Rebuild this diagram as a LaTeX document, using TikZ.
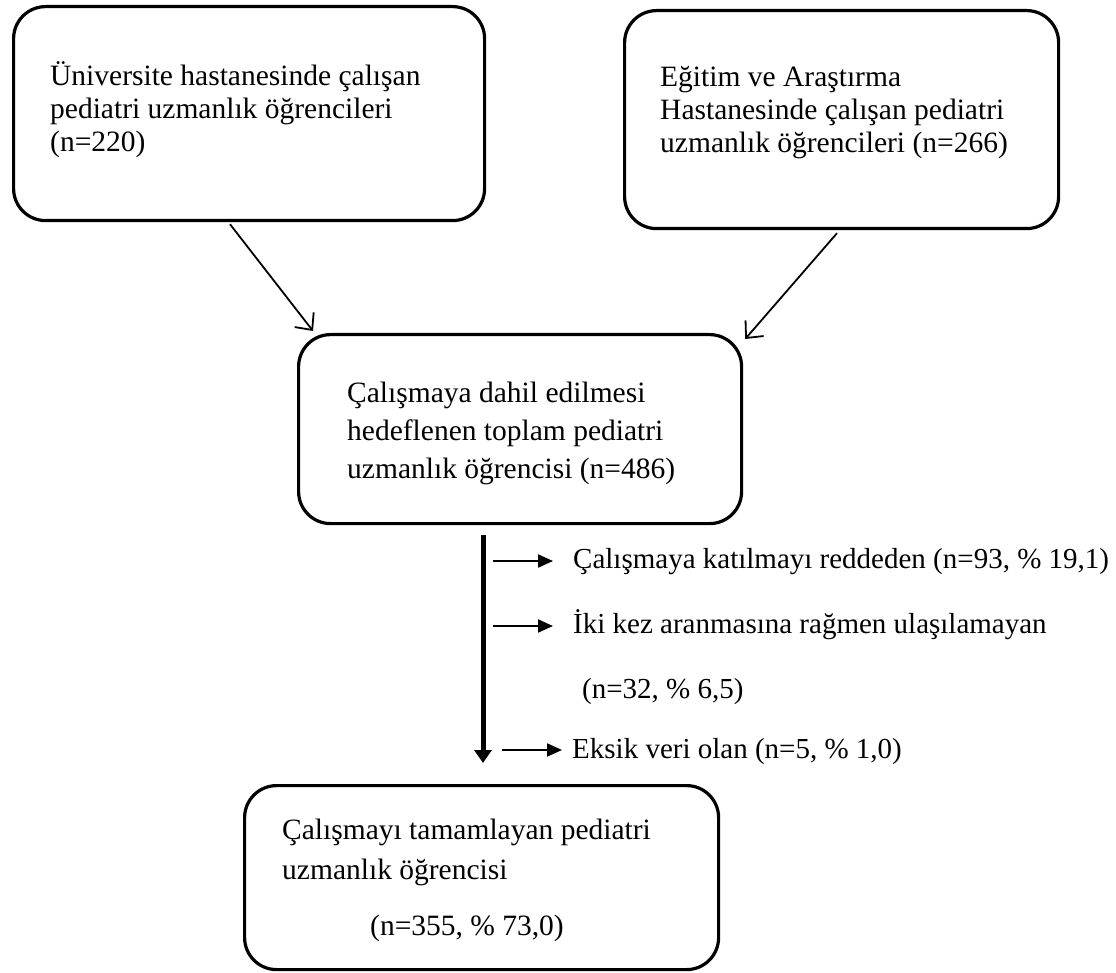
\documentclass[tikz,border=0pt]{standalone}
\usepackage{fontspec}
\setmainfont{Liberation Serif}
\usetikzlibrary{arrows.meta,calc}
\tikzset{
  box/.style={draw, line width=3.2pt, rounded corners=32pt, inner sep=0pt, anchor=north west},
  txt/.style={inner sep=0pt, anchor=north west, align=left, font=\fontsize{29.5pt}{33pt}\selectfont},
  oneline/.style={inner sep=0pt, anchor=base west, font=\fontsize{29pt}{34pt}\selectfont},
  feed/.style={line width=1.8pt, -{Straight Barb[length=13pt,width=24pt]}},
  exclude/.style={line width=2pt, -{Triangle[length=15pt,width=13pt]}},
  flow/.style={line width=5pt, -{Triangle[length=13pt,width=17pt]}},
}
\begin{document}
\begin{tikzpicture}[x=1pt,y=-1pt]
\useasboundingbox (0,0) rectangle (1116,973);
% boxes
\node[box, minimum width=471pt, minimum height=214pt] (A) at (12,5) {};
\node[box, minimum width=434pt, minimum height=218pt] (B) at (623,9) {};
\node[box, minimum width=443pt, minimum height=189pt] (C) at (297,333) {};
\node[box, minimum width=474pt, minimum height=184pt] (D) at (243,784) {};
% texts in boxes
\node[txt] (tA) at (50,57) {\rule{0pt}{28pt}Üniversite hastanesinde çalışan\\pediatri uzmanlık öğrencileri\\(n=220)};
\node[txt] (tB) at (660,58) {\rule{0pt}{28pt}Eğitim ve Araştırma\\Hastanesinde çalışan pediatri\\uzmanlık öğrencileri (n=266)};
\node[txt, font=\fontsize{29.5pt}{38pt}\selectfont] (tC) at (347,374) {\rule{0pt}{28pt}Çalışmaya dahil edilmesi\\hedeflenen toplam pediatri\\uzmanlık öğrencisi (n=486)};
\node[txt, font=\fontsize{29.5pt}{40pt}\selectfont] (tD) at (282,811) {\rule{0pt}{28pt}Çalışmayı tamamlayan pediatri\\uzmanlık öğrencisi};
\node[oneline, font=\fontsize{29.5pt}{34pt}\selectfont] (tD2) at (370,935) {(n=355, \% 73,0)};
% exclusion texts
\node[oneline] (e1) at (573,568) {Çalışmaya katılmayı reddeden (n=93, \% 19,1)};
\node[oneline] (e2) at (573,633) {İki kez aranmasına rağmen ulaşılamayan};
\node[oneline] (e2b) at (582,698) {(n=32, \% 6,5)};
\node[oneline] (e3) at (572,758) {Eksik veri olan (n=5, \% 1,0)};
% connectors
\draw[feed] ($(A.south west)+(218,2)$) -- ($(C.north west)+(16,-2)$);
\draw[feed] ($(B.south west)+(214,3)$) -- ($(C.north east)+(2,6)$);
\draw[flow] ($(C.south west)+(186,10)$) -- ($(D.north west)+(240,-21)$);
\draw[exclude] ($(e1.base west)+(-80,-7)$) -- ($(e1.base west)+(-20,-7)$);
\draw[exclude] ($(e2.base west)+(-80,-7)$) -- ($(e2.base west)+(-20,-7)$);
\draw[exclude] ($(e3.base west)+(-70,-8)$) -- ($(e3.base west)+(-10,-8)$);
\end{tikzpicture}
\end{document}
